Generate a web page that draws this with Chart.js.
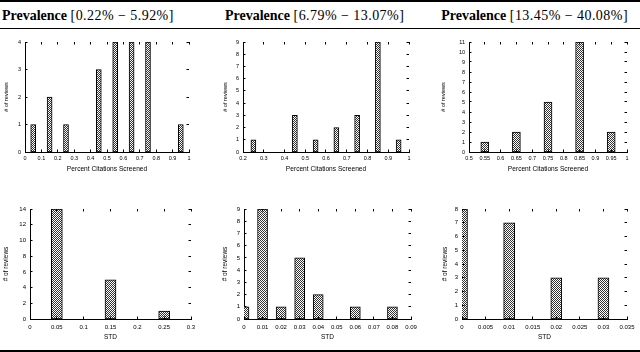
<!DOCTYPE html>
<html><head><meta charset="utf-8">
<script src="https://cdn.jsdelivr.net/npm/chart.js@4.4.0/dist/chart.umd.min.js"></script>
<style>
html,body{margin:0;padding:0;background:#fff;}
#page{position:relative;width:640px;height:352px;overflow:hidden;background:#fff;}
.rule{position:absolute;left:0;width:640px;background:#000;}
.hdr{position:absolute;top:8px;font:14px/16px "Liberation Serif","Times New Roman",serif;color:#000;white-space:nowrap;}
.hdr b{font-weight:bold;}
.hdr span{letter-spacing:0.45px;}
canvas{position:absolute;}
</style></head><body>
<div id="page">
<div class="rule" style="top:0;height:2px"></div>
<div class="rule" style="top:28px;height:1px"></div>
<div class="rule" style="top:350px;height:2px"></div>
</div>
<script>
// ---------- data ----------
const headerWord = 'Prevalence';
const prevalenceRanges = ['[0.22% \u2212 5.92%]', '[6.79% \u2212 13.07%]', '[13.45% \u2212 40.08%]'];

const pctTitle = 'Percent Citations Screened';
const stdTitle = 'STD';
const yTitleText = '# of reviews';

const pct1Bins = [0.05, 0.15, 0.25, 0.45, 0.55, 0.65, 0.75, 0.95];
const pct1Counts = [1, 2, 1, 3, 4, 4, 4, 1];
const pct1Ticks = ['0', '0.1', '0.2', '0.3', '0.4', '0.5', '0.6', '0.7', '0.8', '0.9', '1'];
const pct1Max = 4;

const pct2Bins = [0.25, 0.45, 0.55, 0.65, 0.75, 0.85, 0.95];
const pct2Counts = [1, 3, 1, 2, 3, 9, 1];
const pct2Ticks = ['0.2', '0.3', '0.4', '0.5', '0.6', '0.7', '0.8', '0.9', '1'];
const pct2Max = 9;

const pct3Bins = [0.55, 0.65, 0.75, 0.85, 0.95];
const pct3Counts = [1, 2, 5, 11, 2];
const pct3Ticks = ['0.5', '0.55', '0.6', '0.65', '0.7', '0.75', '0.8', '0.85', '0.9', '0.95', '1'];
const pct3Max = 11;

const std1Bins = [0.05, 0.15, 0.25];
const std1Counts = [14, 5, 1];
const std1Ticks = ['0', '0.05', '0.1', '0.15', '0.2', '0.25', '0.3'];
const std1Max = 14;

const std2Bins = [0, 0.01, 0.02, 0.03, 0.04, 0.06, 0.08];
const std2Counts = [1, 9, 1, 5, 2, 1, 1];
const std2Ticks = ['0', '0.01', '0.02', '0.03', '0.04', '0.05', '0.06', '0.07', '0.08', '0.09'];
const std2Max = 9;

const std3Bins = [0, 0.01, 0.02, 0.03];
const std3Counts = [8, 7, 3, 3];
const std3Ticks = ['0', '0.005', '0.01', '0.015', '0.02', '0.025', '0.03', '0.035'];
const std3Max = 8;

// ---------- layout / style ----------
const page = document.getElementById('page');
const headerPos = [{left: 2}, {center: 314}, {right: 12}];
prevalenceRanges.forEach((r, i) => {
  const d = document.createElement('div');
  d.className = 'hdr';
  const b = document.createElement('b');
  b.textContent = headerWord;
  d.appendChild(b);
  d.appendChild(document.createTextNode(' '));
  const s = document.createElement('span');
  s.textContent = r;
  d.appendChild(s);
  page.appendChild(d);
  const pos = headerPos[i];
  if (pos.left !== undefined) d.style.left = pos.left + 'px';
  else if (pos.right !== undefined) d.style.right = pos.right + 'px';
  else d.style.left = Math.round(pos.center - d.offsetWidth / 2) + 'px';
});

const FONT = '"Liberation Sans", Arial, Helvetica, sans-serif';

function makePattern() {
  const c = document.createElement('canvas');
  c.width = 2; c.height = 2;
  const g = c.getContext('2d');
  g.fillStyle = '#ffffff'; g.fillRect(0, 0, 2, 2);
  g.fillStyle = '#333333';
  g.fillRect(0, 0, 1, 1); g.fillRect(1, 1, 1, 1);
  return g.createPattern(c, 'repeat');
}

const mirrorTicks = {
  id: 'mirrorTicks',
  afterDraw(chart) {
    const {ctx, chartArea: a} = chart;
    const x = chart.scales.x, y = chart.scales.y;
    const L = 2.5;
    ctx.save();
    ctx.strokeStyle = '#000'; ctx.lineWidth = 1;
    ctx.beginPath();
    x.ticks.forEach(t => {
      const px = Math.round(x.getPixelForValue(t.value) - 0.5) + 0.5;
      ctx.moveTo(px, a.top); ctx.lineTo(px, a.top + L);
      ctx.moveTo(px, a.bottom); ctx.lineTo(px, a.bottom - L);
    });
    y.ticks.forEach(t => {
      const py = Math.round(y.getPixelForValue(t.value) - 0.5) + 0.5;
      ctx.moveTo(a.left, py); ctx.lineTo(a.left + L, py);
      ctx.moveTo(a.right, py); ctx.lineTo(a.right - L, py);
    });
    ctx.stroke();
    ctx.restore();
  }
};

const panels = [
  {bins: pct1Bins, counts: pct1Counts, ticks: pct1Ticks, ymax: pct1Max, xtitle: pctTitle,
   L: 25, R: 189, T: 42, B: 152, ytx: 6, bar: 5, row: 0},
  {bins: pct2Bins, counts: pct2Counts, ticks: pct2Ticks, ymax: pct2Max, xtitle: pctTitle,
   L: 243, R: 409, T: 42, B: 152, ytx: 225, bar: 5, row: 0},
  {bins: pct3Bins, counts: pct3Counts, ticks: pct3Ticks, ymax: pct3Max, xtitle: pctTitle,
   L: 469, R: 627, T: 42, B: 152, ytx: 443, bar: 8, row: 0},
  {bins: std1Bins, counts: std1Counts, ticks: std1Ticks, ymax: std1Max, xtitle: stdTitle,
   L: 30, R: 191, T: 209, B: 319, ytx: 6, bar: 11, row: 1},
  {bins: std2Bins, counts: std2Counts, ticks: std2Ticks, ymax: std2Max, xtitle: stdTitle,
   L: 244, R: 411, T: 209, B: 319, ytx: 225, bar: 10, row: 1},
  {bins: std3Bins, counts: std3Counts, ticks: std3Ticks, ymax: std3Max, xtitle: stdTitle,
   L: 462, R: 627, T: 209, B: 319, ytx: 445, bar: 11, row: 1}
];

const pattern = makePattern();

panels.forEach(p => {
  const tickSize = p.row === 0 ? 5.5 : 6;
  const titleSize = p.row === 0 ? 6.6 : 6.5;
  const ytSize = p.row === 0 ? 5.5 : 6.5;
  const padTop = 4, padRight = 12;
  const xh = p.row === 0 ? 21 : 22;
  const left = Math.round(p.ytx - ytSize * 1.2 / 2);
  const top = p.T - padTop;
  const w = p.R - left + padRight;
  const h = (p.B - p.T) + padTop + xh;
  const yw = p.L - left;

  const cv = document.createElement('canvas');
  cv.width = w; cv.height = h;
  cv.style.left = left + 'px'; cv.style.top = top + 'px';
  cv.style.width = w + 'px'; cv.style.height = h + 'px';
  page.appendChild(cv);

  new Chart(cv, {
    type: 'bar',
    data: {
      datasets: [{
        data: p.bins.map((b, i) => ({x: b, y: p.counts[i]})),
        backgroundColor: pattern,
        borderColor: '#000',
        borderWidth: 1,
        borderSkipped: false,
        barThickness: p.bar,
        clip: 0
      }]
    },
    options: {
      responsive: false,
      animation: false,
      devicePixelRatio: 1,
      layout: {padding: {top: padTop, right: padRight, left: 0, bottom: 0}},
      plugins: {legend: {display: false}, tooltip: {enabled: false}},
      scales: {
        x: {
          type: 'linear',
          offset: false,
          min: parseFloat(p.ticks[0]),
          max: parseFloat(p.ticks[p.ticks.length - 1]),
          afterBuildTicks: s => { s.ticks = p.ticks.map(t => ({value: parseFloat(t)})); },
          afterFit: s => { s.height = xh; s.paddingLeft = 0; s.paddingRight = 0; },
          grid: {display: false, drawTicks: false, tickLength: 0},
          border: {display: true, color: '#000', width: 1},
          ticks: {
            autoSkip: false, maxRotation: 0, minRotation: 0,
            padding: p.row === 0 ? 3 : 4.5,
            color: '#000',
            font: {family: FONT, size: tickSize, lineHeight: 1.2},
            callback: (v, i) => p.ticks[i]
          },
          title: {display: true, text: p.xtitle, color: '#000', padding: 0,
                  font: {family: FONT, size: titleSize, lineHeight: 1.2}}
        },
        y: {
          min: 0, max: p.ymax,
          afterFit: s => { s.width = yw; s.paddingTop = 0; s.paddingBottom = 0; },
          grid: {display: false, drawTicks: false, tickLength: 0},
          border: {display: true, color: '#000', width: 1},
          ticks: {
            stepSize: 1, padding: 4, color: '#000',
            font: {family: FONT, size: tickSize, lineHeight: 1.2}
          },
          title: {display: true, text: yTitleText, color: '#000', padding: 0,
                  font: {family: FONT, size: ytSize, lineHeight: 1.2}}
        }
      }
    },
    plugins: [mirrorTicks]
  });
});
</script>
</body></html>
